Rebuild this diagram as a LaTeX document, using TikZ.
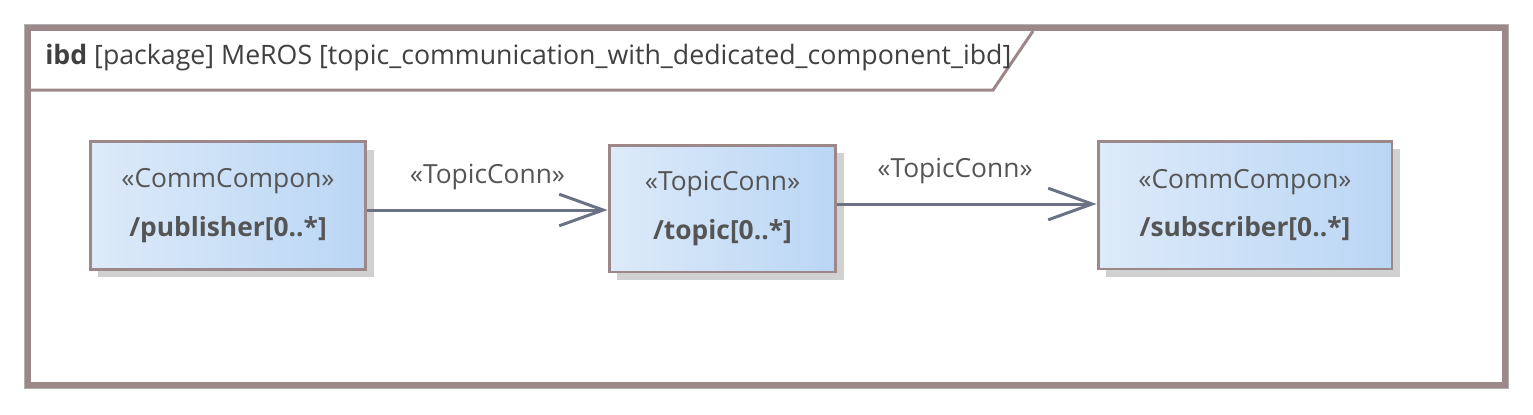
\documentclass[tikz,border=0pt]{standalone}
\usepackage{fontspec}
\setmainfont{Open Sans}
\usetikzlibrary{arrows.meta,positioning,shadows}

\definecolor{framecol}{HTML}{9C8888}
\definecolor{boxleft}{HTML}{DDEAF9}
\definecolor{boxright}{HTML}{BAD6F5}
\definecolor{textcol}{HTML}{555555}
\definecolor{conncol}{HTML}{6B7286}

\begin{document}
\begin{tikzpicture}[x=0.02cm, y=-0.02cm,
  part/.style={draw=framecol, line width=1.7pt, left color=boxleft, right color=boxright,
    minimum height=2.56cm, align=center, text=textcol, inner sep=0pt,
    font=\fontsize{15}{27.5}\selectfont,
    general shadow={fill=black!18, shadow xshift=0.16cm, shadow yshift=-0.16cm}},
  conn/.style={-{Straight Barb[length=25pt, width=18pt, line width=1.7pt]}, line width=1.7pt, color=conncol},
  connlabel/.style={font=\fontsize{15}{18}\selectfont, text=textcol}
]
  \useasboundingbox (0,0) rectangle (1533,414);

  % diagram frame
  \draw[black!30, line width=4.5pt] (28,28) rectangle (1505,385);
  \draw[framecol, line width=3pt, fill=white] (28,28) rectangle (1505,385);
  \draw[framecol, line width=1.7pt] (30,90) -- (993,90) -- (1033,31);
  \node[anchor=west, text=black!75, font=\fontsize{15.2}{18}\selectfont, inner sep=0pt] (title) at (45,58)
    {\textbf{ibd} [package] MeROS [topic\_communication\_with\_dedicated\_component\_ibd]};

  % parts
  \node[part, minimum width=5.52cm] (pub) at (228,205.5) {«CommCompon»\\\textbf{/publisher[0..*]}};
  \node[part, minimum width=4.54cm, minimum height=2.54cm] (topic) at (722.5,208.5) {«TopicConn»\\\textbf{/topic[0..*]}};
  \node[part, minimum width=5.88cm] (sub) at (1245,205) {«CommCompon»\\\textbf{/subscriber[0..*]}};

  % connectors
  \draw[conn] ([yshift=-0.09cm]pub.east) -- ([yshift=-0.09cm]pub.east -| topic.west)
    node[connlabel, midway, above=0.26cm] {«TopicConn»};
  \draw[conn] ([yshift=0.09cm]topic.east) -- ([yshift=0.09cm]topic.east -| sub.west)
    node[connlabel, midway, above=0.26cm, xshift=-0.24cm] {«TopicConn»};
\end{tikzpicture}
\end{document}
